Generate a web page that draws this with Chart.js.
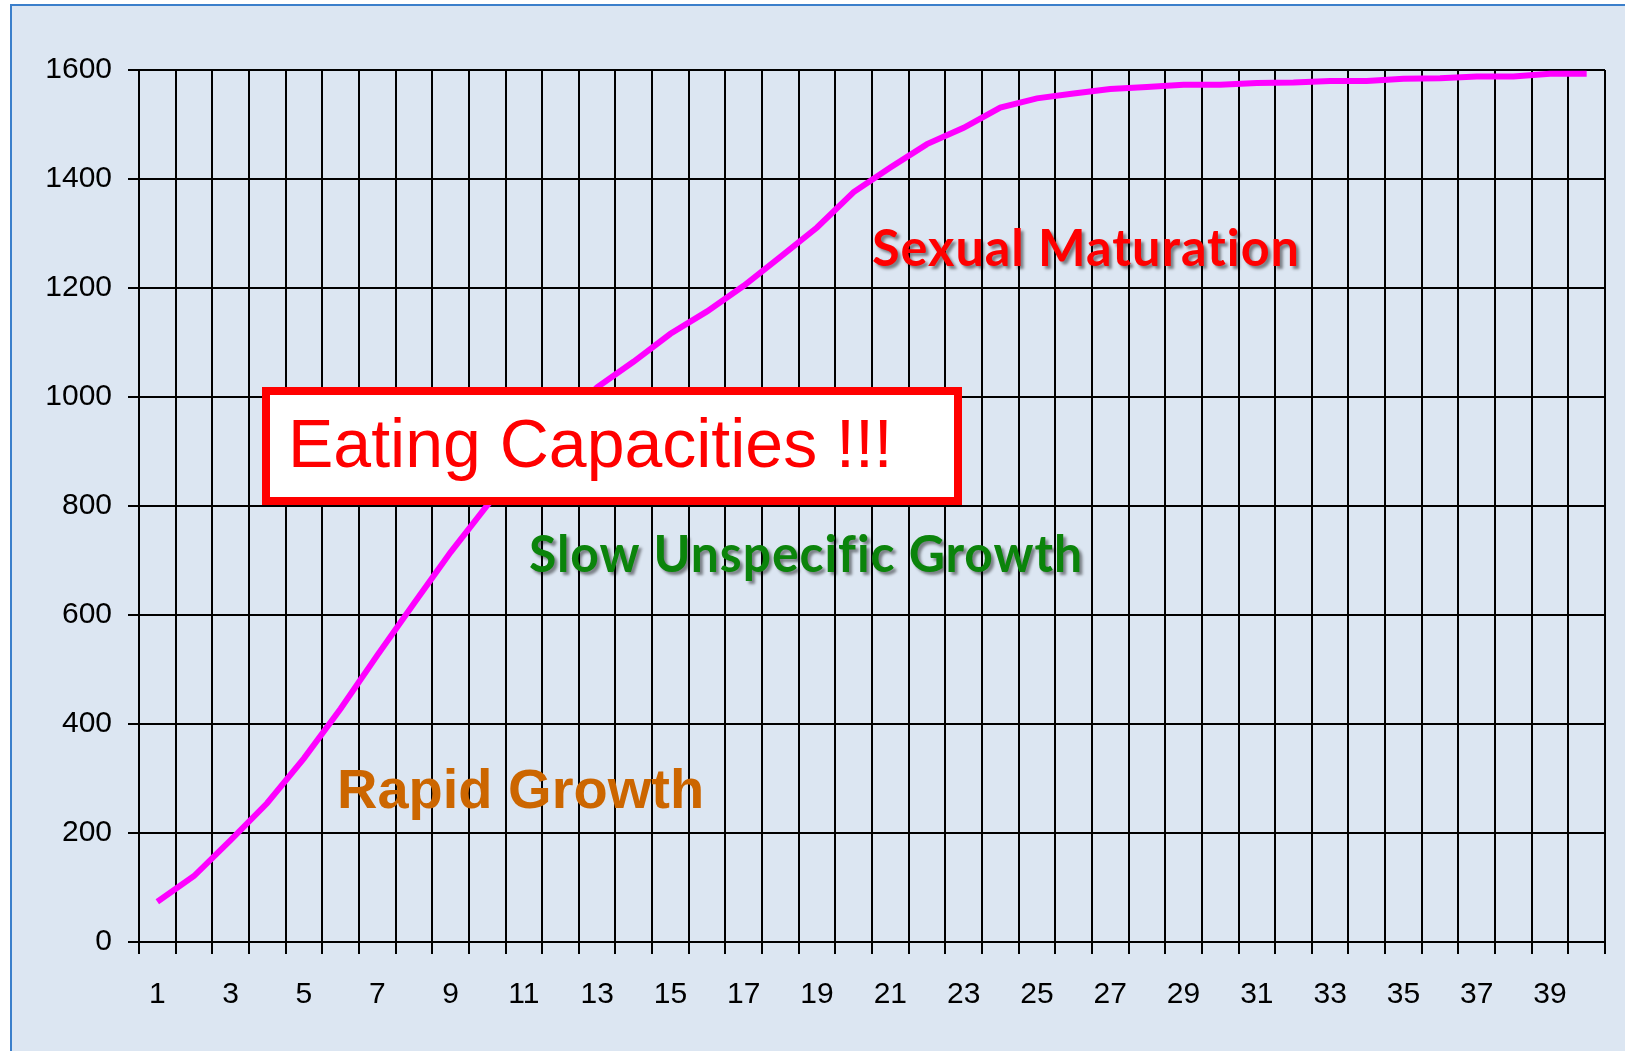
<!DOCTYPE html>
<html>
<head>
<meta charset="utf-8">
<script src="https://cdn.jsdelivr.net/npm/chart.js@4.4.1/dist/chart.umd.min.js"></script>
<style>
  html, body { margin: 0; padding: 0; background: #ffffff; overflow: hidden; }
  #frame {
    position: absolute; left: 10px; top: 4px; width: 1700px; height: 1200px;
    background: #dce6f2; border-left: 2px solid #3b7fcb; border-top: 2px solid #3b7fcb;
  }
  #growth { position: absolute; left: 0; top: 0; }
</style>
</head>
<body>
<div id="frame"></div>
<canvas id="growth" width="1625" height="1051"></canvas>
<script>
  // x: age steps, y: size
  const days = [1, 2, 3, 4, 5, 6, 7, 8, 9, 10, 11, 12, 13, 14, 15, 16, 17, 18, 19, 20,
    21, 22, 23, 24, 25, 26, 27, 28, 29, 30, 31, 32, 33, 34, 35, 36, 37, 38, 39, 40];
  const growth = [74, 121, 187, 255, 337, 428, 526, 621, 715, 801,
    879, 951, 1018, 1065, 1116, 1157, 1204, 1257, 1311, 1376,
    1421, 1464, 1494, 1531, 1548, 1557, 1565, 1569, 1573, 1573,
    1576, 1577, 1580, 1580, 1584, 1585, 1588, 1588, 1593, 1593];
  const yMin = 0;
  const yMax = 1600;
  const yStep = 200;

  const phaseLabels = ["Sexual Maturation", "Slow Unspecific Growth", "Rapid Growth"];
  const boxLabel = "Eating Capacities !!!";

  // draw text, squeezed horizontally to a target width when given
  function fitText(ctx, text, x, y, width) {
    const w = ctx.measureText(text).width;
    ctx.save();
    ctx.translate(x, y);
    if (width) ctx.scale(width / w, 1);
    ctx.fillText(text, 0, 0);
    ctx.restore();
  }

  const notes = {
    id: "notes",
    afterDraw(chart) {
      const ctx = chart.ctx;
      ctx.save();
      ctx.textBaseline = "alphabetic";
      ctx.textAlign = "left";

      // boxed label
      ctx.fillStyle = "#ffffff";
      ctx.fillRect(262, 387, 700, 118);
      ctx.strokeStyle = "#ff0000";
      ctx.lineWidth = 8;
      ctx.strokeRect(266, 391, 692, 110);
      ctx.fillStyle = "#ff0000";
      ctx.font = "68px 'Liberation Sans', Arial, sans-serif";
      fitText(ctx, boxLabel, 288, 467);

      // shadowed phase labels (no ligatures, like the original)
      ctx.textRendering = "optimizeSpeed";
      ctx.letterSpacing = "1px";
      ctx.shadowColor = "rgba(0,0,0,0.45)";
      ctx.shadowOffsetX = 3;
      ctx.shadowOffsetY = 3;
      ctx.shadowBlur = 3;
      ctx.font = "bold 52px Lato, 'Open Sans', sans-serif";
      ctx.fillStyle = "#ff0000";
      fitText(ctx, phaseLabels[0], 872, 266, 428);
      ctx.fillStyle = "#0b840b";
      fitText(ctx, phaseLabels[1], 529, 572, 554);

      ctx.letterSpacing = "0px";
      ctx.shadowColor = "transparent";
      ctx.font = "bold 56px 'Liberation Sans', Arial, sans-serif";
      ctx.fillStyle = "#cc6600";
      fitText(ctx, phaseLabels[2], 337, 808);
      ctx.restore();
    },
  };

  new Chart(document.getElementById("growth"), {
    type: "line",
    data: {
      labels: days,
      datasets: [
        {
          data: growth,
          borderColor: "#ff00ff",
          borderWidth: 6,
          tension: 0,
          pointRadius: 0,
          fill: false,
        },
      ],
    },
    options: {
      responsive: false,
      animation: false,
      devicePixelRatio: 1,
      layout: { padding: { left: 0, top: 70, right: 20, bottom: 0 } },
      plugins: { legend: { display: false }, tooltip: { enabled: false } },
      scales: {
        x: {
          type: "category",
          offset: true,
          afterFit(scale) { scale.height = 109; },
          grid: { offset: true, color: "#000", lineWidth: 2, tickLength: 12 },
          border: { color: "#000", width: 2 },
          ticks: {
            autoSkip: false,
            maxRotation: 0,
            padding: 23,
            color: "#000",
            font: { family: "'Liberation Sans', Arial, sans-serif", size: 30 },
            callback: (v, i) => (i % 2 === 0 ? String(days[i]) : ""),
          },
        },
        y: {
          min: yMin,
          max: yMax,
          afterFit(scale) { scale.width = 139; },
          grid: { color: "#000", lineWidth: 2, tickLength: 11 },
          border: { color: "#000", width: 2 },
          ticks: {
            stepSize: yStep,
            padding: 16,
            color: "#000",
            font: { family: "'Liberation Sans', Arial, sans-serif", size: 30 },
            callback: (v) => String(v),
          },
        },
      },
    },
    plugins: [notes],
  });
</script>
</body>
</html>
